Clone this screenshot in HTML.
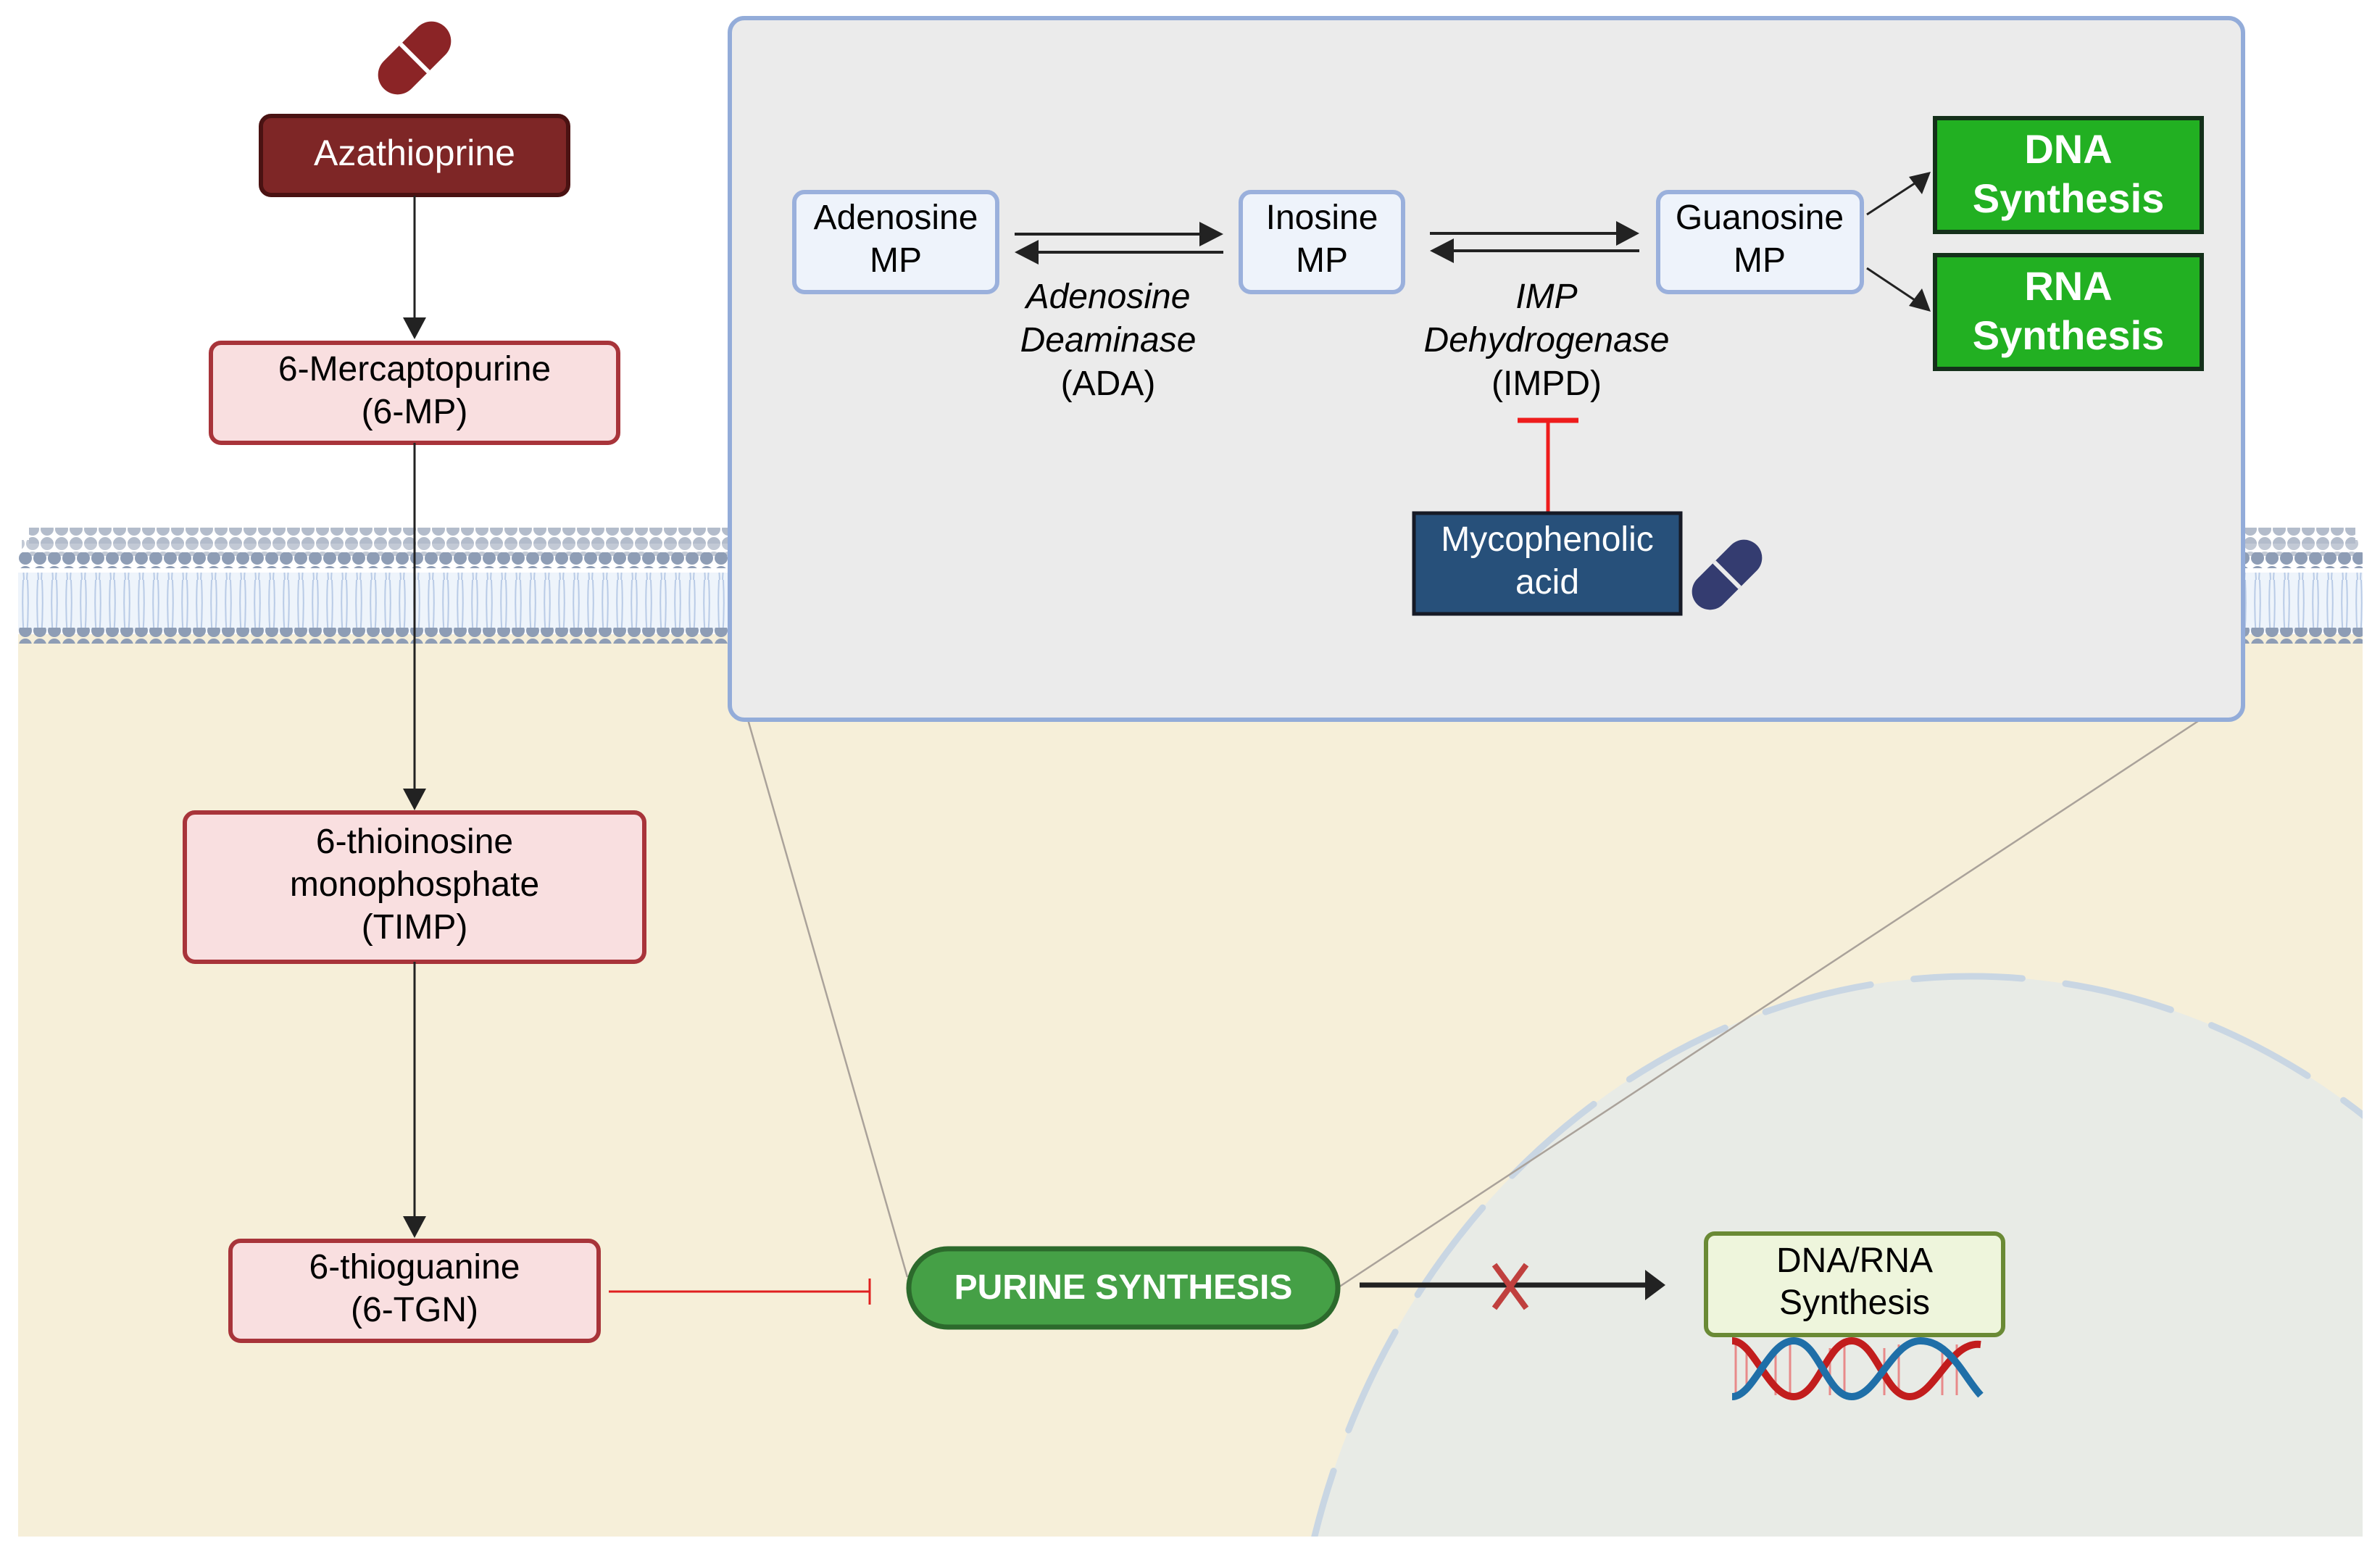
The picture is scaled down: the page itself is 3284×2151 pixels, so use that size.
<!DOCTYPE html>
<html><head><meta charset="utf-8"><style>
html,body{margin:0;padding:0;background:#fff;width:3284px;height:2151px;overflow:hidden;}
svg{display:block;}
text{font-family:"Liberation Sans",sans-serif;}
</style></head><body>
<svg width="3284" height="2151" viewBox="0 0 3284 2151" xmlns="http://www.w3.org/2000/svg">
<defs>
<pattern id="heads" x="25" y="0" width="20" height="20" patternUnits="userSpaceOnUse"><circle cx="10" cy="10" r="9" fill="#8e9db5"/></pattern>
<pattern id="heads2" x="35" y="0" width="20" height="20" patternUnits="userSpaceOnUse"><circle cx="10" cy="10" r="9" fill="#b3bccb"/></pattern>
<pattern id="tails" x="25" y="0" width="20" height="80" patternUnits="userSpaceOnUse"><path d="M7 0 Q5 40 8 80 M13 0 Q15 40 12 80" stroke="#b9cbe6" stroke-width="2" fill="none"/></pattern>
<clipPath id="cell"><rect x="25" y="880" width="3235" height="1240"/></clipPath>
</defs>
<rect x="25" y="875" width="3235" height="1245" fill="#f6efd9"/>
<g clip-path="url(#cell)">
<ellipse cx="2720" cy="2400" rx="940" ry="1053" fill="#e8ebe6"/>
<ellipse cx="2720" cy="2400" rx="940" ry="1053" fill="none" stroke="#c9d6e3" stroke-width="9" stroke-dasharray="150 60" stroke-linecap="round"/>
</g>
<rect x="25" y="790" width="3235" height="80" fill="#eef4fb"/>
<rect x="25" y="790" width="3235" height="80" fill="url(#tails)"/>
<rect x="40" y="728" width="3210" height="22" fill="url(#heads2)"/>
<rect x="30" y="745" width="3225" height="22" fill="url(#heads2)" opacity="0.8"/>
<rect x="25" y="762" width="3235" height="22" fill="url(#heads)"/>
<rect x="25" y="866" width="3235" height="22" fill="url(#heads)"/>
<line x1="1032" y1="993" x2="1252" y2="1762" stroke="#aaa29a" stroke-width="2.5"/>
<line x1="3036" y1="993" x2="1847" y2="1776" stroke="#aaa29a" stroke-width="2.5"/>
<rect x="1007" y="25" width="2088" height="968" rx="20" fill="#ebebeb" stroke="#93acd9" stroke-width="6"/>
<g transform="translate(572,80) rotate(-45)"><rect x="-60" y="-27" width="120" height="54" rx="27" fill="#8b2426"/><line x1="0" y1="-27" x2="0" y2="27" stroke="#fff" stroke-width="6"/></g>
<rect x="360" y="160" width="424" height="109" rx="14" fill="#7e2626" stroke="#4a1212" stroke-width="6"/>
<text x="572" y="228" font-size="50" fill="#fff" text-anchor="middle">Azathioprine</text>
<line x1="572" y1="270" x2="572" y2="440" stroke="#222" stroke-width="3"/>
<path d="M556 438L588 438L572 468z" fill="#222"/>
<rect x="291" y="473" width="562" height="138" rx="14" fill="#f9dfe0" stroke="#a8343a" stroke-width="6"/>
<text x="572" y="525" font-size="48" text-anchor="middle">6-Mercaptopurine</text>
<text x="572" y="584" font-size="48" text-anchor="middle">(6-MP)</text>
<line x1="572" y1="611" x2="572" y2="1090" stroke="#222" stroke-width="3"/>
<path d="M556 1088L588 1088L572 1118z" fill="#222"/>
<rect x="255" y="1121" width="634" height="206" rx="14" fill="#f9dfe0" stroke="#a8343a" stroke-width="6"/>
<text x="572" y="1177" font-size="48" text-anchor="middle">6-thioinosine</text>
<text x="572" y="1236" font-size="48" text-anchor="middle">monophosphate</text>
<text x="572" y="1295" font-size="48" text-anchor="middle">(TIMP)</text>
<line x1="572" y1="1327" x2="572" y2="1680" stroke="#222" stroke-width="3"/>
<path d="M556 1678L588 1678L572 1708z" fill="#222"/>
<rect x="318" y="1712" width="508" height="138" rx="14" fill="#f9dfe0" stroke="#a8343a" stroke-width="6"/>
<text x="572" y="1764" font-size="48" text-anchor="middle">6-thioguanine</text>
<text x="572" y="1823" font-size="48" text-anchor="middle">(6-TGN)</text>
<line x1="840" y1="1782" x2="1200" y2="1782" stroke="#e02020" stroke-width="3"/>
<line x1="1200" y1="1764" x2="1200" y2="1800" stroke="#e02020" stroke-width="3"/>
<rect x="1254" y="1723" width="592" height="108" rx="54" fill="#45a046" stroke="#2c6a2c" stroke-width="7"/>
<text x="1550" y="1792" font-size="48" font-weight="bold" fill="#fff" text-anchor="middle">PURINE SYNTHESIS</text>
<line x1="1876" y1="1773" x2="2290" y2="1773" stroke="#222" stroke-width="7"/>
<path d="M2270 1752L2298 1773L2270 1794z" fill="#222"/>
<path d="M2062 1745L2106 1805M2106 1745L2062 1805" stroke="#c0403e" stroke-width="8"/>
<rect x="2354" y="1702" width="410" height="140" rx="12" fill="#eef5dc" stroke="#6a8a35" stroke-width="6"/>
<text x="2559" y="1755" font-size="48" text-anchor="middle">DNA/RNA</text>
<text x="2559" y="1813" font-size="48" text-anchor="middle">Synthesis</text>
<g stroke-width="3">
<path d="M2395 1855V1925M2410 1858V1922M2450 1860V1925M2470 1855V1925M2525 1860V1925M2545 1855V1925M2600 1860V1925M2620 1855V1925M2680 1860V1925M2700 1855V1925" stroke="#e88a8a"/>
</g>
<path d="M2390 1850 C2420 1850 2440 1927 2475 1927 C2510 1927 2520 1850 2555 1850 C2590 1850 2600 1927 2635 1927 C2670 1927 2690 1850 2733 1855" fill="none" stroke="#c21d1d" stroke-width="10"/>
<path d="M2390 1927 C2420 1927 2440 1850 2475 1850 C2510 1850 2520 1927 2555 1927 C2590 1927 2610 1850 2650 1850 C2690 1850 2710 1900 2733 1925" fill="none" stroke="#1f6fa8" stroke-width="10"/>
<rect x="1096" y="265" width="280" height="138" rx="14" fill="#eef3fb" stroke="#9ab0dc" stroke-width="6"/>
<text x="1236" y="316" font-size="48" text-anchor="middle">Adenosine</text>
<text x="1236" y="375" font-size="48" text-anchor="middle">MP</text>
<rect x="1712" y="265" width="224" height="138" rx="14" fill="#eef3fb" stroke="#9ab0dc" stroke-width="6"/>
<text x="1824" y="316" font-size="48" text-anchor="middle">Inosine</text>
<text x="1824" y="375" font-size="48" text-anchor="middle">MP</text>
<rect x="2288" y="265" width="281" height="138" rx="14" fill="#eef3fb" stroke="#9ab0dc" stroke-width="6"/>
<text x="2428" y="316" font-size="48" text-anchor="middle">Guanosine</text>
<text x="2428" y="375" font-size="48" text-anchor="middle">MP</text>
<g stroke="#222" stroke-width="4">
<line x1="1400" y1="323" x2="1660" y2="323"/><line x1="1420" y1="348" x2="1688" y2="348"/>
<line x1="1973" y1="322" x2="2235" y2="322"/><line x1="1995" y1="346" x2="2262" y2="346"/>
</g>
<g fill="#222">
<path d="M1655 306L1688 323L1655 340z"/><path d="M1433 331L1400 348L1433 365z"/>
<path d="M2230 305L2262 322L2230 339z"/><path d="M2006 329L1973 346L2006 363z"/>
</g>
<text x="1529" y="425" font-size="48" font-style="italic" text-anchor="middle">Adenosine</text>
<text x="1529" y="485" font-size="48" font-style="italic" text-anchor="middle">Deaminase</text>
<text x="1529" y="545" font-size="48" text-anchor="middle">(ADA)</text>
<text x="2134" y="425" font-size="48" font-style="italic" text-anchor="middle">IMP</text>
<text x="2134" y="485" font-size="48" font-style="italic" text-anchor="middle">Dehydrogenase</text>
<text x="2134" y="545" font-size="48" text-anchor="middle">(IMPD)</text>
<line x1="2136" y1="582" x2="2136" y2="708" stroke="#ee1c1c" stroke-width="5"/>
<line x1="2094" y1="580" x2="2178" y2="580" stroke="#ee1c1c" stroke-width="7"/>
<rect x="1951" y="708" width="368" height="139" fill="#27507a" stroke="#161a26" stroke-width="5"/>
<text x="2135" y="760" font-size="48" fill="#fff" text-anchor="middle">Mycophenolic</text>
<text x="2135" y="819" font-size="48" fill="#fff" text-anchor="middle">acid</text>
<g transform="translate(2383,793) rotate(-45)"><rect x="-58" y="-25" width="116" height="50" rx="25" fill="#343c70"/><line x1="0" y1="-25" x2="0" y2="25" stroke="#ebebeb" stroke-width="6"/></g>
<line x1="2576" y1="296" x2="2645" y2="251" stroke="#222" stroke-width="3"/>
<path d="M2664 237L2652 268L2634 244z" fill="#222"/>
<line x1="2576" y1="370" x2="2645" y2="416" stroke="#222" stroke-width="3"/>
<path d="M2664 430L2634 422L2652 398z" fill="#222"/>
<rect x="2670" y="163" width="368" height="157" fill="#22b022" stroke="#14301a" stroke-width="6"/>
<text x="2854" y="225" font-size="56" font-weight="bold" fill="#fff" text-anchor="middle">DNA</text>
<text x="2854" y="293" font-size="56" font-weight="bold" fill="#fff" text-anchor="middle">Synthesis</text>
<rect x="2670" y="352" width="368" height="157" fill="#22b022" stroke="#14301a" stroke-width="6"/>
<text x="2854" y="414" font-size="56" font-weight="bold" fill="#fff" text-anchor="middle">RNA</text>
<text x="2854" y="482" font-size="56" font-weight="bold" fill="#fff" text-anchor="middle">Synthesis</text>
</svg>
</body></html>
